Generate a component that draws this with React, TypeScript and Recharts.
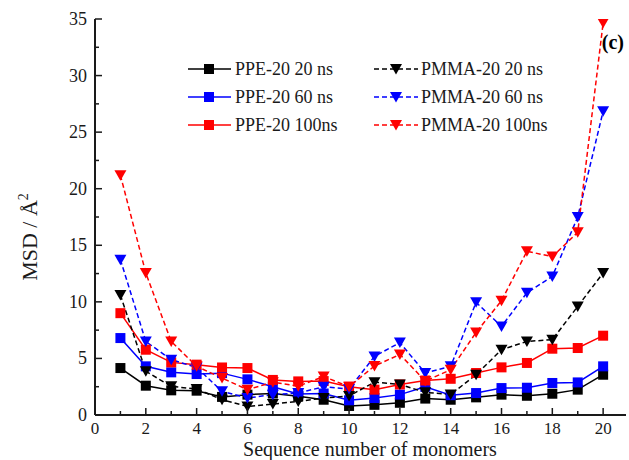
import React from 'react';
import { LineChart, Line, XAxis, YAxis, Legend } from 'recharts';

const sequence = [1, 2, 3, 4, 5, 6, 7, 8, 9, 10, 11, 12, 13, 14, 15, 16, 17, 18, 19, 20];
const ppe20ns = [4.15, 2.59, 2.18, 2.15, 1.6, 1.8, 1.9, 1.65, 1.35, 0.8, 0.9, 1.08, 1.45, 1.35, 1.56, 1.8, 1.7, 1.88, 2.24, 3.56];
const ppe60ns = [6.8, 4.3, 3.77, 3.62, 3.7, 3.15, 2.5, 1.85, 1.9, 1.3, 1.5, 1.8, 2.5, 1.75, 1.94, 2.38, 2.41, 2.83, 2.88, 4.3];
const ppe100ns = [9.0, 5.77, 4.65, 4.45, 4.2, 4.15, 3.1, 2.97, 3.0, 2.5, 2.24, 2.7, 3.05, 3.2, 3.71, 4.21, 4.6, 5.86, 5.92, 7.01];
const pmma20ns = [10.6, 3.86, 2.53, 2.3, 1.35, 0.76, 0.97, 1.2, 1.5, 1.68, 2.9, 2.7, 2.0, 1.82, 3.56, 5.77, 6.5, 6.66, 9.6, 12.55];
const pmma60ns = [13.73, 6.5, 4.89, 4.2, 2.09, 1.5, 1.8, 1.94, 2.5, 2.3, 5.18, 6.4, 3.71, 4.3, 9.96, 7.83, 10.8, 12.25, 17.5, 26.85];
const pmma100ns = [21.2, 12.55, 6.5, 4.3, 3.27, 2.24, 2.9, 2.55, 3.4, 2.5, 4.33, 5.35, 3.0, 4.0, 7.3, 10.1, 14.47, 14.0, 16.15, 34.66];

const xTicks = [0, 1, 2, 3, 4, 5, 6, 7, 8, 9, 10, 11, 12, 13, 14, 15, 16, 17, 18, 19, 20];
const yTicks = [0, 2.5, 5, 7.5, 10, 12.5, 15, 17.5, 20, 22.5, 25, 27.5, 30, 32.5, 35];

const data = sequence.map((s, i) => ({
  s,
  ppe20: ppe20ns[i],
  ppe60: ppe60ns[i],
  ppe100: ppe100ns[i],
  pmma20: pmma20ns[i],
  pmma60: pmma60ns[i],
  pmma100: pmma100ns[i],
}));

type Series = { key: string; name: string; color: string; dash?: string; shape: 'square' | 'tri' };
const series: Series[] = [
  { key: 'ppe20', name: 'PPE-20 20 ns', color: '#000000', shape: 'square' },
  { key: 'ppe60', name: 'PPE-20 60 ns', color: '#0000ff', shape: 'square' },
  { key: 'ppe100', name: 'PPE-20 100ns', color: '#ff0000', shape: 'square' },
  { key: 'pmma20', name: 'PMMA-20 20 ns', color: '#000000', dash: '5 3', shape: 'tri' },
  { key: 'pmma60', name: 'PMMA-20 60 ns', color: '#0000ff', dash: '5 3', shape: 'tri' },
  { key: 'pmma100', name: 'PMMA-20 100ns', color: '#ff0000', dash: '5 3', shape: 'tri' },
];

const FONT = '"Liberation Serif", "Times New Roman", serif';
const AX = '#1a1a1a';

const Marker = ({ cx, cy, color, shape }: { cx: number; cy: number; color: string; shape: string }) => {
  if (shape === 'square') {
    return <rect x={cx - 5} y={cy - 5} width={10} height={10} fill={color} />;
  }
  return <polygon points={`${cx - 6},${cy - 5} ${cx + 6},${cy - 5} ${cx},${cy + 5.5}`} fill={color} />;
};

const XTick = (props: any) => {
  const { x, y, payload } = props;
  const v = payload.value;
  const major = v % 2 === 0;
  return (
    <g>
      <line x1={x} x2={x} y1={y} y2={y - (major ? 7 : 4)} stroke={AX} strokeWidth={1.5} />
      {major && (
        <text x={x} y={y + 19} textAnchor="middle" fontFamily={FONT} fontSize={17} fill={AX}>
          {v}
        </text>
      )}
    </g>
  );
};

const YTick = (props: any) => {
  const { x, y, payload } = props;
  const v = payload.value;
  const major = v % 5 === 0;
  return (
    <g>
      <line x1={x} x2={x + (major ? 7 : 4)} y1={y} y2={y} stroke={AX} strokeWidth={1.5} />
      {major && (
        <text x={x - 8} y={y + 6} textAnchor="end" fontFamily={FONT} fontSize={18} fill={AX}>
          {v}
        </text>
      )}
    </g>
  );
};

const LegendContent = () => {
  const cols = [
    { lx1: 188, lx2: 231, mx: 209, tx: 235 },
    { lx1: 374, lx2: 418, mx: 396, tx: 421 },
  ];
  const rows = [69, 97, 125];
  return (
    <svg width={629} height={460} style={{ position: 'absolute', left: 0, top: 0 }}>
      {series.map((s, i) => {
        const c = cols[Math.floor(i / 3)];
        const y = rows[i % 3];
        return (
          <g key={s.key}>
            <line x1={c.lx1} x2={c.lx2} y1={y} y2={y} stroke={s.color} strokeWidth={1.5} strokeDasharray={s.dash} />
            <Marker cx={c.mx} cy={y} color={s.color} shape={s.shape} />
            <text x={c.tx} y={y + 6} fontFamily={FONT} fontSize={18} fill={AX}>
              {s.name}
            </text>
          </g>
        );
      })}
      <text x={624} y={49} textAnchor="end" fontFamily={FONT} fontSize={20} fontWeight="bold" fill="#000">
        (c)
      </text>
    </svg>
  );
};

const YLabel = () => (
  <text x={37} y={237} transform="rotate(-90, 37, 237)" textAnchor="middle" fontFamily={FONT} fontSize={22} fill={AX}>
    MSD / Å
    <tspan dy={-9} fontSize={14}>2</tspan>
  </text>
);

const XLabel = () => (
  <text x={370} y={455.5} textAnchor="middle" fontFamily={FONT} fontSize={20} fill={AX}>
    Sequence number of monomers
  </text>
);

export default function App() {
  return (
    <div style={{ position: 'absolute', left: 0, top: 0, width: 629, height: 460, background: '#fff' }}>
      <LineChart width={629} height={460} data={data} margin={{ top: 19, right: 3, left: 0, bottom: 0 }}>
        <XAxis
          dataKey="s"
          type="number"
          domain={[0, 20.9]}
          ticks={xTicks}
          interval={0}
          tickSize={0}
          tickMargin={0}
          tick={<XTick />}
          height={45}
          axisLine={{ stroke: AX, strokeWidth: 2 }}
          allowDataOverflow
          label={{ content: <XLabel /> }}
        />
        <XAxis
          xAxisId="top"
          orientation="top"
          dataKey="s"
          type="number"
          domain={[0, 20.9]}
          height={0}
          tick={false}
          tickLine={false}
          axisLine={{ stroke: AX, strokeWidth: 2 }}
        />
        <YAxis
          type="number"
          domain={[0, 35]}
          ticks={yTicks}
          interval={0}
          tickSize={0}
          tickMargin={0}
          tick={<YTick />}
          width={95}
          axisLine={{ stroke: AX, strokeWidth: 2 }}
          allowDataOverflow
          label={{ content: <YLabel /> }}
        />
        <YAxis
          yAxisId="right"
          orientation="right"
          type="number"
          domain={[0, 35]}
          width={0}
          tick={false}
          tickLine={false}
          axisLine={{ stroke: AX, strokeWidth: 2 }}
        />
        <Legend
          layout="vertical"
          align="center"
          verticalAlign="middle"
          content={<LegendContent />}
          wrapperStyle={{ position: 'absolute', left: 0, top: 0, width: 629, height: 460, pointerEvents: 'none' }}
        />
        {series.map((s) => (
          <Line
            key={s.key}
            dataKey={s.key}
            name={s.name}
            stroke={s.color}
            strokeWidth={1.5}
            strokeDasharray={s.dash}
            isAnimationActive={false}
            activeDot={false}
            dot={(p: any) => <Marker key={`${s.key}-${p.index}`} cx={p.cx} cy={p.cy} color={s.color} shape={s.shape} />}
          />
        ))}
      </LineChart>
    </div>
  );
}
